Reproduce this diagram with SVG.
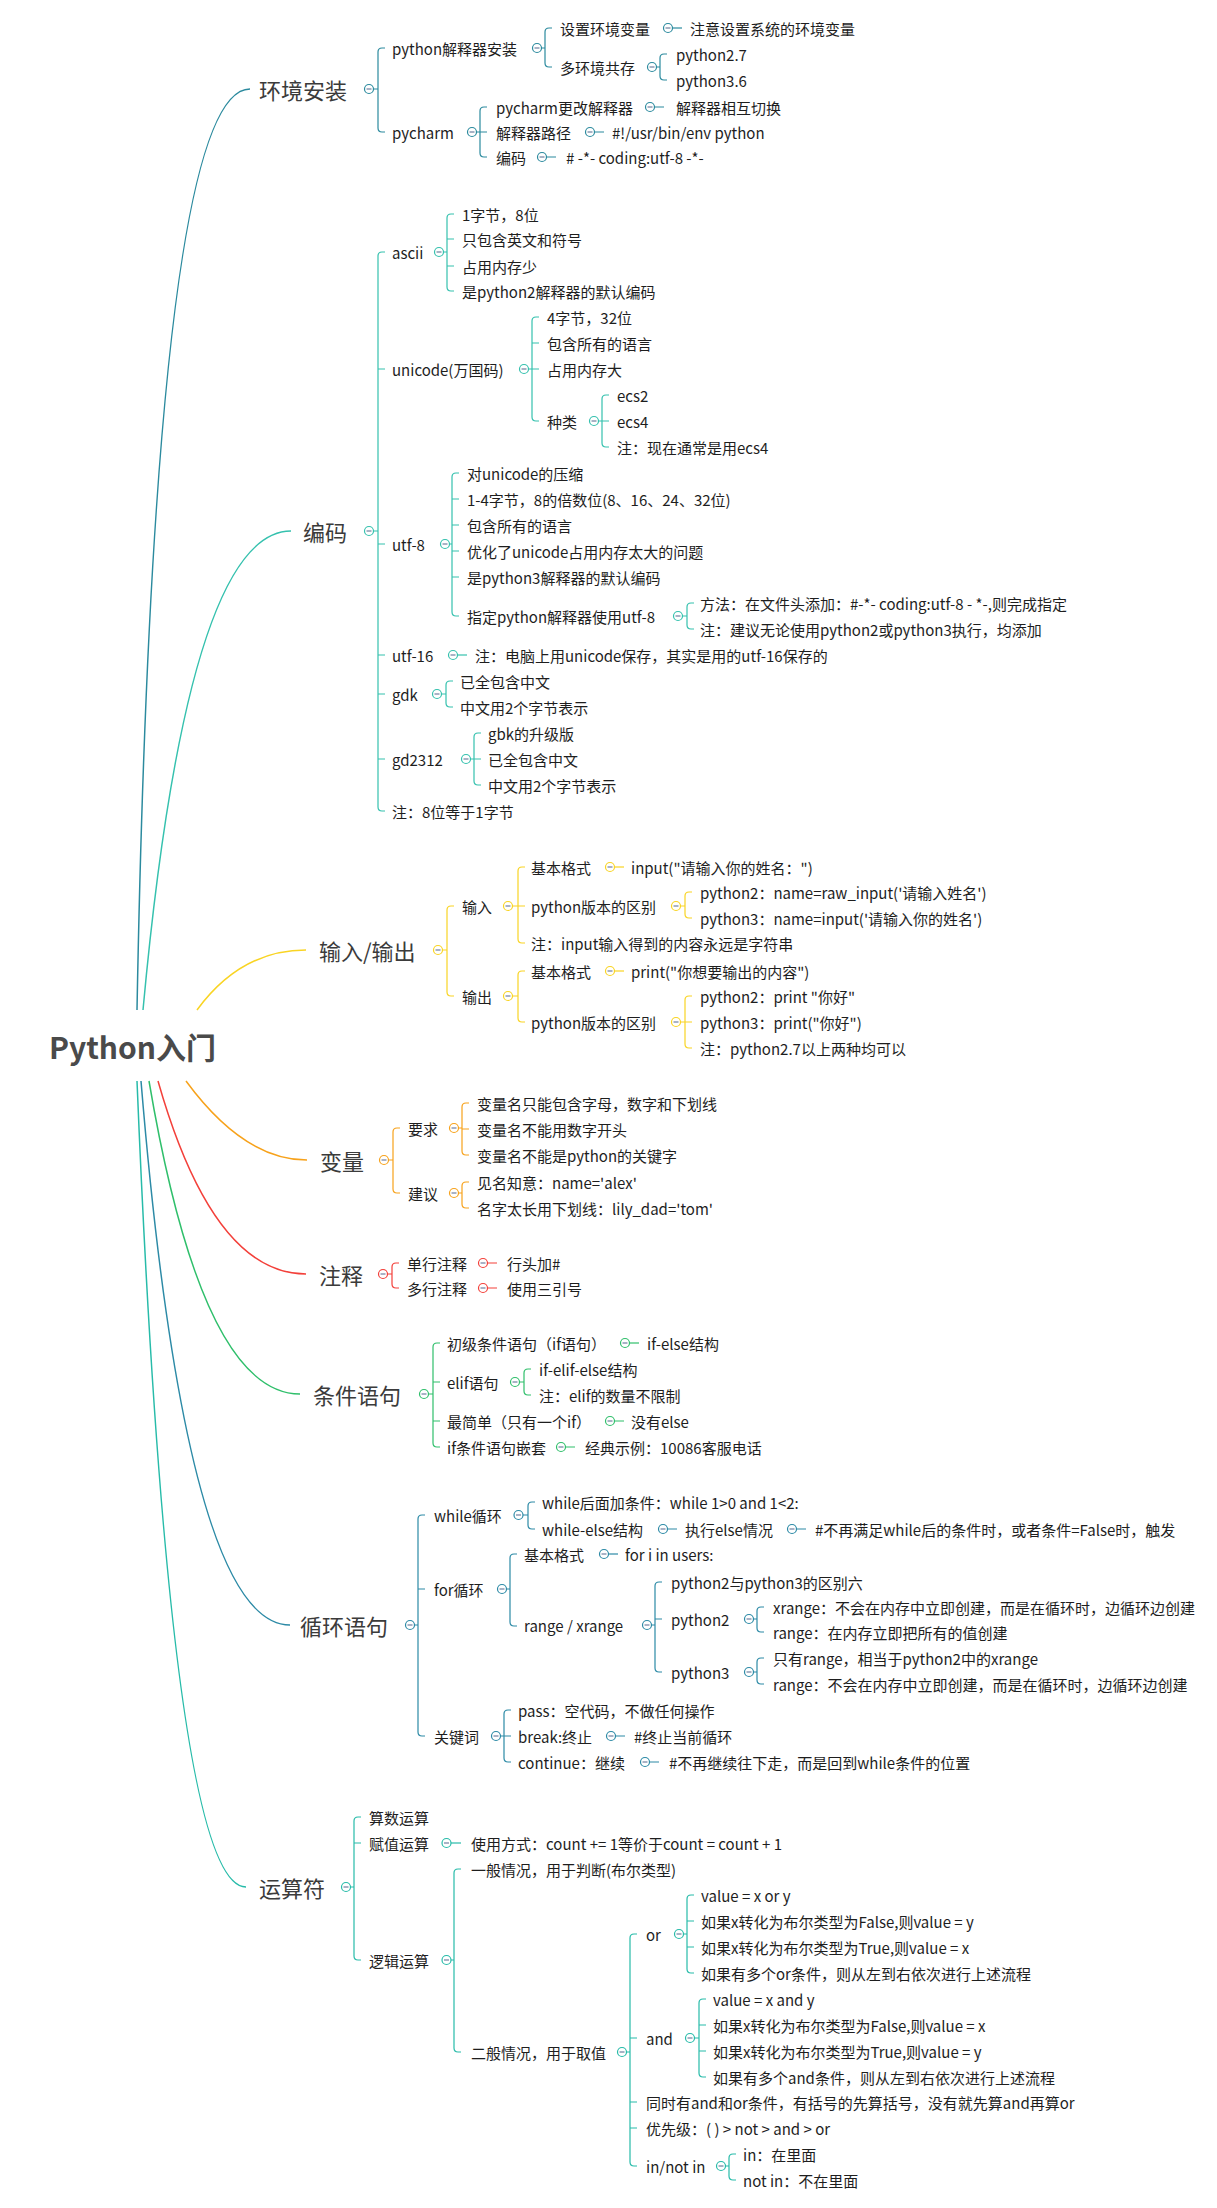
<svg xmlns="http://www.w3.org/2000/svg" width="1217" height="2208" viewBox="0 0 1217 2208">
<style>
text{font-family:"Noto Sans CJK SC","Microsoft YaHei",sans-serif;font-size:15px;fill:#1e1e1e;dominant-baseline:central}
.m{font-size:22px;fill:#3b3b3b}
.r{font-size:30px;font-weight:bold;fill:#4a4a4a}
path{fill:none;stroke-width:1.2}
.cv{stroke-width:1.5}
.k{fill:#fff;stroke-width:1.2}
.mi{stroke:#6f7f9f;stroke-width:1.2}
.A{stroke:#2b8a9e}.B{stroke:#35c1ae}.C{stroke:#f9d423}.D{stroke:#f7a21b}.E{stroke:#f3403a}.F{stroke:#2fbf6b}.G{stroke:#2c8aa6}.H{stroke:#27bba9}
</style>
<rect width="1217" height="2208" fill="#fff"/>
<g id="connectors">
<path class="cv A" d="M137,1010 Q154,89 250,89"/>
<path class="cv B" d="M143,1010 Q187,531 291,531"/>
<path class="cv C" d="M197,1010 Q241,950 306,950"/>
<path class="cv D" d="M186,1081 Q244,1160 307,1160"/>
<path class="cv E" d="M158,1081 Q213,1274 306,1274"/>
<path class="cv F" d="M149,1081 Q202,1394 300,1394"/>
<path class="cv G" d="M141,1081 Q186,1625 290,1625"/>
<path class="cv H" d="M137,1081 Q170,1887 246,1887"/>
<g class="A">
<path d="M373.5,89 H378 M385,48 H382 Q378,48 378,52 V128 Q378,132 382,132 H385"/>
<path d="M541.5,48 H545 M552,28 H549 Q545,28 545,32 V63 Q545,67 549,67 H552"/>
<path d="M672.5,28 H682"/>
<path d="M656.5,67 H660 M667,54 H664 Q660,54 660,58 V76 Q660,80 664,80 H667"/>
<path d="M476.5,132 H480 M487,107 H484 Q480,107 480,111 V153 Q480,157 484,157 H487 M480,132 H487"/>
<path d="M654.5,107 H664 M594.5,132 H604 M546.5,157 H556"/>
</g>
<g class="B">
<path d="M373.5,531 H378 M385,252 H382 Q378,252 378,256 V807 Q378,811 382,811 H385 M378,369 H385 M378,544 H385 M378,655 H385 M378,694 H385 M378,759 H385"/>
<path d="M443.5,252 H447 M454,214 H451 Q447,214 447,218 V287 Q447,291 451,291 H454 M447,239 H454 M447,266 H454"/>
<path d="M528.5,369 H532 M539,317 H536 Q532,317 532,321 V417 Q532,421 536,421 H539 M532,343 H539 M532,369 H539"/>
<path d="M598.5,421 H602 M609,395 H606 Q602,395 602,399 V443 Q602,447 606,447 H609 M602,421 H609"/>
<path d="M449.5,544 H452 M459,473 H456 Q452,473 452,477 V612 Q452,616 456,616 H459 M452,499 H459 M452,525 H459 M452,551 H459 M452,577 H459"/>
<path d="M682.5,616 H687 M694,603 H691 Q687,603 687,607 V625 Q687,629 691,629 H694"/>
<path d="M457.5,655 H467"/>
<path d="M441.5,694 H446 M453,681 H450 Q446,681 446,685 V703 Q446,707 450,707 H453"/>
<path d="M470.5,759 H474 M481,733 H478 Q474,733 474,737 V781 Q474,785 478,785 H481 M474,759 H481"/>
</g>
<g class="C">
<path d="M442.5,950 H447 M454,906 H451 Q447,906 447,910 V992 Q447,996 451,996 H454"/>
<path d="M512.5,906 H518 M525,867 H522 Q518,867 518,871 V939 Q518,943 522,943 H525 M518,906 H525"/>
<path d="M614.5,867 H624"/>
<path d="M680.5,906 H685 M692,892 H689 Q685,892 685,896 V914 Q685,918 689,918 H692"/>
<path d="M512.5,996 H518 M525,971 H522 Q518,971 518,975 V1018 Q518,1022 522,1022 H525"/>
<path d="M614.5,971 H624"/>
<path d="M680.5,1022 H685 M692,996 H689 Q685,996 685,1000 V1044 Q685,1048 689,1048 H692 M685,1022 H692"/>
</g>
<g class="D">
<path d="M388.5,1160 H393 M400,1128 H397 Q393,1128 393,1132 V1189 Q393,1193 397,1193 H400"/>
<path d="M458.5,1128 H462 M469,1103 H466 Q462,1103 462,1107 V1151 Q462,1155 466,1155 H469 M462,1129 H469"/>
<path d="M458.5,1193 H462 M469,1182 H466 Q462,1182 462,1186 V1204 Q462,1208 466,1208 H469"/>
</g>
<g class="E">
<path d="M387.5,1274 H392 M399,1263 H396 Q392,1263 392,1267 V1284 Q392,1288 396,1288 H399"/>
<path d="M487.5,1263 H497 M487.5,1288 H497"/>
</g>
<g class="F">
<path d="M428.5,1394 H433 M440,1343 H437 Q433,1343 433,1347 V1443 Q433,1447 437,1447 H440 M433,1382 H440 M433,1421 H440"/>
<path d="M629.5,1343 H639"/>
<path d="M519.5,1382 H524 M531,1369 H528 Q524,1369 524,1373 V1391 Q524,1395 528,1395 H531"/>
<path d="M614.5,1421 H624 M565.5,1447 H575"/>
</g>
<g class="G">
<path d="M414.5,1625 H418 M425,1515 H422 Q418,1515 418,1519 V1732 Q418,1736 422,1736 H425 M418,1589 H425"/>
<path d="M523,1515 H528 M535,1502 H532 Q528,1502 528,1506 V1525 Q528,1529 532,1529 H535"/>
<path d="M667.5,1529 H677 M796.5,1529 H806"/>
<path d="M506.5,1589 H510 M517,1554 H514 Q510,1554 510,1558 V1622 Q510,1626 514,1626 H517"/>
<path d="M608.5,1554 H618"/>
<path d="M651.5,1625 H655 M662,1582 H659 Q655,1582 655,1586 V1668 Q655,1672 659,1672 H662 M655,1619 H662"/>
<path d="M753.5,1619 H757 M764,1607 H761 Q757,1607 757,1611 V1628 Q757,1632 761,1632 H764"/>
<path d="M753.5,1672 H757 M764,1658 H761 Q757,1658 757,1662 V1680 Q757,1684 761,1684 H764"/>
<path d="M500.5,1736 H504 M511,1710 H508 Q504,1710 504,1714 V1758 Q504,1762 508,1762 H511 M504,1736 H511"/>
<path d="M615.5,1736 H625 M649.5,1762 H659"/>
</g>
<g class="H">
<path d="M350.5,1887 H354 M361,1817 H358 Q354,1817 354,1821 V1956 Q354,1960 358,1960 H361 M354,1843 H361"/>
<path d="M451,1843 H461"/>
<path d="M451,1960 H454 M461,1869 H458 Q454,1869 454,1873 V2048 Q454,2052 458,2052 H461"/>
<path d="M626.5,2052 H630 M637,1934 H634 Q630,1934 630,1938 V2162 Q630,2166 634,2166 H637 M630,2038 H637 M630,2102 H637 M630,2128 H637"/>
<path d="M683.5,1934 H687 M694,1895 H691 Q687,1895 687,1899 V1969 Q687,1973 691,1973 H694 M687,1921 H694 M687,1947 H694"/>
<path d="M694.5,2038 H699 M706,1999 H703 Q699,1999 699,2003 V2073 Q699,2077 703,2077 H706 M699,2025 H706 M699,2051 H706"/>
<path d="M725.5,2166 H729 M736,2154 H733 Q729,2154 729,2158 V2176 Q729,2180 733,2180 H736"/>
</g>
</g>
<g id="root"><text class="r" x="49" y="1046">Python入门</text></g>

<g id="a"><text class="m" x="259" y="89">环境安装</text><circle class="k A" cx="369" cy="89" r="4.5"/><path class="mi" d="M366.5,89 h5"/></g>
<g id="a1"><text x="392" y="48">python解释器安装</text><circle class="k A" cx="537" cy="48" r="4.5"/><path class="mi" d="M534.5,48 h5"/></g>
<g id="a1a"><text x="560" y="28">设置环境变量</text><circle class="k A" cx="668" cy="28" r="4.5"/><path class="mi" d="M665.5,28 h5"/></g>
<g id="a1a1"><text x="690" y="28">注意设置系统的环境变量</text></g>
<g id="a1b"><text x="560" y="67">多环境共存</text><circle class="k A" cx="652" cy="67" r="4.5"/><path class="mi" d="M649.5,67 h5"/></g>
<g id="a1b1"><text x="676" y="54">python2.7</text></g>
<g id="a1b2"><text x="676" y="80">python3.6</text></g>
<g id="a2"><text x="392" y="132">pycharm</text><circle class="k A" cx="472" cy="132" r="4.5"/><path class="mi" d="M469.5,132 h5"/></g>
<g id="a2a"><text x="496" y="107">pycharm更改解释器</text><circle class="k A" cx="650" cy="107" r="4.5"/><path class="mi" d="M647.5,107 h5"/></g>
<g id="a2a1"><text x="676" y="107">解释器相互切换</text></g>
<g id="a2b"><text x="496" y="132">解释器路径</text><circle class="k A" cx="590" cy="132" r="4.5"/><path class="mi" d="M587.5,132 h5"/></g>
<g id="a2b1"><text x="612" y="132">#!/usr/bin/env python</text></g>
<g id="a2c"><text x="496" y="157">编码</text><circle class="k A" cx="542" cy="157" r="4.5"/><path class="mi" d="M539.5,157 h5"/></g>
<g id="a2c1"><text x="566" y="157"># -*- coding:utf-8 -*-</text></g>

<g id="b"><text class="m" x="303" y="531">编码</text><circle class="k B" cx="369" cy="531" r="4.5"/><path class="mi" d="M366.5,531 h5"/></g>
<g id="b1"><text x="392" y="252">ascii</text><circle class="k B" cx="439" cy="252" r="4.5"/><path class="mi" d="M436.5,252 h5"/></g>
<g id="b1a"><text x="462" y="214">1字节，8位</text></g>
<g id="b1b"><text x="462" y="239">只包含英文和符号</text></g>
<g id="b1c"><text x="462" y="266">占用内存少</text></g>
<g id="b1d"><text x="462" y="291">是python2解释器的默认编码</text></g>
<g id="b2"><text x="392" y="369">unicode(万国码)</text><circle class="k B" cx="524" cy="369" r="4.5"/><path class="mi" d="M521.5,369 h5"/></g>
<g id="b2a"><text x="547" y="317">4字节，32位</text></g>
<g id="b2b"><text x="547" y="343">包含所有的语言</text></g>
<g id="b2c"><text x="547" y="369">占用内存大</text></g>
<g id="b2d"><text x="547" y="421">种类</text><circle class="k B" cx="594" cy="421" r="4.5"/><path class="mi" d="M591.5,421 h5"/></g>
<g id="b2d1"><text x="617" y="395">ecs2</text></g>
<g id="b2d2"><text x="617" y="421">ecs4</text></g>
<g id="b2d3"><text x="617" y="447">注：现在通常是用ecs4</text></g>
<g id="b3"><text x="392" y="544">utf-8</text><circle class="k B" cx="445" cy="544" r="4.5"/><path class="mi" d="M442.5,544 h5"/></g>
<g id="b3a"><text x="467" y="473">对unicode的压缩</text></g>
<g id="b3b"><text x="467" y="499">1-4字节，8的倍数位(8、16、24、32位)</text></g>
<g id="b3c"><text x="467" y="525">包含所有的语言</text></g>
<g id="b3d"><text x="467" y="551">优化了unicode占用内存太大的问题</text></g>
<g id="b3e"><text x="467" y="577">是python3解释器的默认编码</text></g>
<g id="b3f"><text x="467" y="616">指定python解释器使用utf-8</text><circle class="k B" cx="678" cy="616" r="4.5"/><path class="mi" d="M675.5,616 h5"/></g>
<g id="b3f1"><text x="700" y="603">方法：在文件头添加：#-*- coding:utf-8 - *-,则完成指定</text></g>
<g id="b3f2"><text x="700" y="629">注：建议无论使用python2或python3执行，均添加</text></g>
<g id="b4"><text x="392" y="655">utf-16</text><circle class="k B" cx="453" cy="655" r="4.5"/><path class="mi" d="M450.5,655 h5"/></g>
<g id="b4a"><text x="475" y="655">注：电脑上用unicode保存，其实是用的utf-16保存的</text></g>
<g id="b5"><text x="392" y="694">gdk</text><circle class="k B" cx="437" cy="694" r="4.5"/><path class="mi" d="M434.5,694 h5"/></g>
<g id="b5a"><text x="460" y="681">已全包含中文</text></g>
<g id="b5b"><text x="460" y="707">中文用2个字节表示</text></g>
<g id="b6"><text x="392" y="759">gd2312</text><circle class="k B" cx="466" cy="759" r="4.5"/><path class="mi" d="M463.5,759 h5"/></g>
<g id="b6a"><text x="488" y="733">gbk的升级版</text></g>
<g id="b6b"><text x="488" y="759">已全包含中文</text></g>
<g id="b6c"><text x="488" y="785">中文用2个字节表示</text></g>
<g id="b7"><text x="392" y="811">注：8位等于1字节</text></g>

<g id="c"><text class="m" x="319" y="950">输入/输出</text><circle class="k C" cx="438" cy="950" r="4.5"/><path class="mi" d="M435.5,950 h5"/></g>
<g id="c1"><text x="462" y="906">输入</text><circle class="k C" cx="508" cy="906" r="4.5"/><path class="mi" d="M505.5,906 h5"/></g>
<g id="c1a"><text x="531" y="867">基本格式</text><circle class="k C" cx="610" cy="867" r="4.5"/><path class="mi" d="M607.5,867 h5"/></g>
<g id="c1a1"><text x="631" y="867">input("请输入你的姓名：")</text></g>
<g id="c1b"><text x="531" y="906">python版本的区别</text><circle class="k C" cx="676" cy="906" r="4.5"/><path class="mi" d="M673.5,906 h5"/></g>
<g id="c1b1"><text x="700" y="892">python2：name=raw_input('请输入姓名')</text></g>
<g id="c1b2"><text x="700" y="918">python3：name=input('请输入你的姓名')</text></g>
<g id="c1c"><text x="531" y="943">注：input输入得到的内容永远是字符串</text></g>
<g id="c2"><text x="462" y="996">输出</text><circle class="k C" cx="508" cy="996" r="4.5"/><path class="mi" d="M505.5,996 h5"/></g>
<g id="c2a"><text x="531" y="971">基本格式</text><circle class="k C" cx="610" cy="971" r="4.5"/><path class="mi" d="M607.5,971 h5"/></g>
<g id="c2a1"><text x="631" y="971">print("你想要输出的内容")</text></g>
<g id="c2b"><text x="531" y="1022">python版本的区别</text><circle class="k C" cx="676" cy="1022" r="4.5"/><path class="mi" d="M673.5,1022 h5"/></g>
<g id="c2b1"><text x="700" y="996">python2：print "你好"</text></g>
<g id="c2b2"><text x="700" y="1022">python3：print("你好")</text></g>
<g id="c2b3"><text x="700" y="1048">注：python2.7以上两种均可以</text></g>

<g id="d"><text class="m" x="320" y="1160">变量</text><circle class="k D" cx="384" cy="1160" r="4.5"/><path class="mi" d="M381.5,1160 h5"/></g>
<g id="d1"><text x="408" y="1128">要求</text><circle class="k D" cx="454" cy="1128" r="4.5"/><path class="mi" d="M451.5,1128 h5"/></g>
<g id="d1a"><text x="477" y="1103">变量名只能包含字母，数字和下划线</text></g>
<g id="d1b"><text x="477" y="1129">变量名不能用数字开头</text></g>
<g id="d1c"><text x="477" y="1155">变量名不能是python的关键字</text></g>
<g id="d2"><text x="408" y="1193">建议</text><circle class="k D" cx="454" cy="1193" r="4.5"/><path class="mi" d="M451.5,1193 h5"/></g>
<g id="d2a"><text x="477" y="1182">见名知意：name='alex'</text></g>
<g id="d2b"><text x="477" y="1208">名字太长用下划线：lily_dad='tom'</text></g>

<g id="e"><text class="m" x="319" y="1274">注释</text><circle class="k E" cx="383" cy="1274" r="4.5"/><path class="mi" d="M380.5,1274 h5"/></g>
<g id="e1"><text x="407" y="1263">单行注释</text><circle class="k E" cx="483" cy="1263" r="4.5"/><path class="mi" d="M480.5,1263 h5"/></g>
<g id="e1a"><text x="507" y="1263">行头加#</text></g>
<g id="e2"><text x="407" y="1288">多行注释</text><circle class="k E" cx="483" cy="1288" r="4.5"/><path class="mi" d="M480.5,1288 h5"/></g>
<g id="e2a"><text x="507" y="1288">使用三引号</text></g>

<g id="f"><text class="m" x="313" y="1394">条件语句</text><circle class="k F" cx="424" cy="1394" r="4.5"/><path class="mi" d="M421.5,1394 h5"/></g>
<g id="f1"><text x="447" y="1343">初级条件语句（if语句）</text><circle class="k F" cx="625" cy="1343" r="4.5"/><path class="mi" d="M622.5,1343 h5"/></g>
<g id="f1a"><text x="647" y="1343">if-else结构</text></g>
<g id="f2"><text x="447" y="1382">elif语句</text><circle class="k F" cx="515" cy="1382" r="4.5"/><path class="mi" d="M512.5,1382 h5"/></g>
<g id="f2a"><text x="539" y="1369">if-elif-else结构</text></g>
<g id="f2b"><text x="539" y="1395">注：elif的数量不限制</text></g>
<g id="f3"><text x="447" y="1421">最简单（只有一个if）</text><circle class="k F" cx="610" cy="1421" r="4.5"/><path class="mi" d="M607.5,1421 h5"/></g>
<g id="f3a"><text x="631" y="1421">没有else</text></g>
<g id="f4"><text x="447" y="1447">if条件语句嵌套</text><circle class="k F" cx="561" cy="1447" r="4.5"/><path class="mi" d="M558.5,1447 h5"/></g>
<g id="f4a"><text x="585" y="1447">经典示例：10086客服电话</text></g>

<g id="g"><text class="m" x="300" y="1625">循环语句</text><circle class="k G" cx="410" cy="1625" r="4.5"/><path class="mi" d="M407.5,1625 h5"/></g>
<g id="g1"><text x="434" y="1515">while循环</text><circle class="k G" cx="518.5" cy="1515" r="4.5"/><path class="mi" d="M516,1515 h5"/></g>
<g id="g1a"><text x="542" y="1502">while后面加条件：while 1&gt;0 and 1&lt;2:</text></g>
<g id="g1b"><text x="542" y="1529">while-else结构</text><circle class="k G" cx="663" cy="1529" r="4.5"/><path class="mi" d="M660.5,1529 h5"/></g>
<g id="g1b1"><text x="685" y="1529">执行else情况</text><circle class="k G" cx="792" cy="1529" r="4.5"/><path class="mi" d="M789.5,1529 h5"/></g>
<g id="g1b1a"><text x="815" y="1529">#不再满足while后的条件时，或者条件=False时，触发</text></g>
<g id="g2"><text x="434" y="1589">for循环</text><circle class="k G" cx="502" cy="1589" r="4.5"/><path class="mi" d="M499.5,1589 h5"/></g>
<g id="g2a"><text x="524" y="1554">基本格式</text><circle class="k G" cx="604" cy="1554" r="4.5"/><path class="mi" d="M601.5,1554 h5"/></g>
<g id="g2a1"><text x="625" y="1554">for i in users:</text></g>
<g id="g2b"><text x="524" y="1625">range / xrange</text><circle class="k G" cx="647" cy="1625" r="4.5"/><path class="mi" d="M644.5,1625 h5"/></g>
<g id="g2b1"><text x="671" y="1582">python2与python3的区别六</text></g>
<g id="g2b2"><text x="671" y="1619">python2</text><circle class="k G" cx="749" cy="1619" r="4.5"/><path class="mi" d="M746.5,1619 h5"/></g>
<g id="g2b2a"><text x="773" y="1607">xrange：不会在内存中立即创建，而是在循环时，边循环边创建</text></g>
<g id="g2b2b"><text x="773" y="1632">range：在内存立即把所有的值创建</text></g>
<g id="g2b3"><text x="671" y="1672">python3</text><circle class="k G" cx="749" cy="1672" r="4.5"/><path class="mi" d="M746.5,1672 h5"/></g>
<g id="g2b3a"><text x="773" y="1658">只有range，相当于python2中的xrange</text></g>
<g id="g2b3b"><text x="773" y="1684">range：不会在内存中立即创建，而是在循环时，边循环边创建</text></g>
<g id="g3"><text x="434" y="1736">关键词</text><circle class="k G" cx="496" cy="1736" r="4.5"/><path class="mi" d="M493.5,1736 h5"/></g>
<g id="g3a"><text x="518" y="1710">pass：空代码，不做任何操作</text></g>
<g id="g3b"><text x="518" y="1736">break:终止</text><circle class="k G" cx="611" cy="1736" r="4.5"/><path class="mi" d="M608.5,1736 h5"/></g>
<g id="g3b1"><text x="634" y="1736">#终止当前循环</text></g>
<g id="g3c"><text x="518" y="1762">continue：继续</text><circle class="k G" cx="645" cy="1762" r="4.5"/><path class="mi" d="M642.5,1762 h5"/></g>
<g id="g3c1"><text x="669" y="1762">#不再继续往下走，而是回到while条件的位置</text></g>

<g id="h"><text class="m" x="259" y="1887">运算符</text><circle class="k H" cx="346" cy="1887" r="4.5"/><path class="mi" d="M343.5,1887 h5"/></g>
<g id="h1"><text x="369" y="1817">算数运算</text></g>
<g id="h2"><text x="369" y="1843">赋值运算</text><circle class="k H" cx="446.5" cy="1843" r="4.5"/><path class="mi" d="M444,1843 h5"/></g>
<g id="h2a"><text x="471" y="1843">使用方式：count += 1等价于count = count + 1</text></g>
<g id="h3"><text x="369" y="1960">逻辑运算</text><circle class="k H" cx="446.5" cy="1960" r="4.5"/><path class="mi" d="M444,1960 h5"/></g>
<g id="h3a"><text x="471" y="1869">一般情况，用于判断(布尔类型)</text></g>
<g id="h3b"><text x="471" y="2052">二般情况，用于取值</text><circle class="k H" cx="622" cy="2052" r="4.5"/><path class="mi" d="M619.5,2052 h5"/></g>
<g id="h3b1"><text x="646" y="1934">or</text><circle class="k H" cx="679" cy="1934" r="4.5"/><path class="mi" d="M676.5,1934 h5"/></g>
<g id="h3b1a"><text x="701" y="1895">value = x or y</text></g>
<g id="h3b1b"><text x="701" y="1921">如果x转化为布尔类型为False,则value = y</text></g>
<g id="h3b1c"><text x="701" y="1947">如果x转化为布尔类型为True,则value = x</text></g>
<g id="h3b1d"><text x="701" y="1973">如果有多个or条件，则从左到右依次进行上述流程</text></g>
<g id="h3b2"><text x="646" y="2038">and</text><circle class="k H" cx="690" cy="2038" r="4.5"/><path class="mi" d="M687.5,2038 h5"/></g>
<g id="h3b2a"><text x="713" y="1999">value = x and y</text></g>
<g id="h3b2b"><text x="713" y="2025">如果x转化为布尔类型为False,则value = x</text></g>
<g id="h3b2c"><text x="713" y="2051">如果x转化为布尔类型为True,则value = y</text></g>
<g id="h3b2d"><text x="713" y="2077">如果有多个and条件，则从左到右依次进行上述流程</text></g>
<g id="h3b3"><text x="646" y="2102">同时有and和or条件，有括号的先算括号，没有就先算and再算or</text></g>
<g id="h3b4"><text x="646" y="2128">优先级：( ) &gt; not &gt; and &gt; or</text></g>
<g id="h3b5"><text x="646" y="2166">in/not in</text><circle class="k H" cx="721" cy="2166" r="4.5"/><path class="mi" d="M718.5,2166 h5"/></g>
<g id="h3b5a"><text x="743" y="2154">in：在里面</text></g>
<g id="h3b5b"><text x="743" y="2180">not in：不在里面</text></g>
</svg>
